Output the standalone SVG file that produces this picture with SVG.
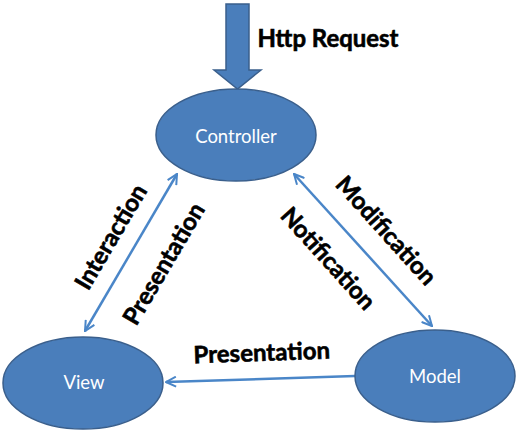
<svg xmlns="http://www.w3.org/2000/svg" width="519" height="438" viewBox="0 0 519 438">
<defs>
<style>
.node{fill:#4a7ebb;stroke:#3a5f8c;stroke-width:1.5}
.nt{font-family:Lato,"Liberation Sans",sans-serif;font-size:18.5px;fill:#ffffff;text-anchor:middle}
.lbl{font-family:Lato,"Liberation Sans",sans-serif;font-size:24px;font-weight:bold;fill:#000000;stroke:#000000;stroke-width:0.6;text-anchor:middle}
.con{stroke:#4a86c8;stroke-width:2.5;fill:none}
</style>
<marker id="ah" viewBox="0 0 12 12" refX="11" refY="6" markerWidth="12" markerHeight="12" markerUnits="userSpaceOnUse" orient="auto-start-reverse">
<path d="M1,1 L11,6 L1,11" fill="none" stroke="#4a86c8" stroke-width="2"/>
</marker>
</defs>
<rect width="519" height="438" fill="#ffffff"/>
<g id="http-request">
<path d="M226,4 L249,4 L249,70 L261,70 L237.5,89 L214,70 L226,70 Z" fill="#4a7ebb" stroke="#3a5f8c" stroke-width="1.5"/>
<text class="lbl" x="328" y="47" textLength="141" lengthAdjust="spacingAndGlyphs">Http Request</text>
</g>
<g id="connectors">
<line class="con" x1="85" y1="331" x2="177" y2="174" marker-start="url(#ah)" marker-end="url(#ah)"/>
<line class="con" x1="294" y1="174" x2="432" y2="326" marker-start="url(#ah)" marker-end="url(#ah)"/>
<line class="con" x1="355" y1="376" x2="166" y2="382" marker-end="url(#ah)"/>
<text class="lbl" transform="translate(118,241) rotate(-59.5)">Interaction</text>
<text class="lbl" transform="translate(171,268) rotate(-59.5)">Presentation</text>
<text class="lbl" transform="translate(380,236) rotate(48)">Modification</text>
<text class="lbl" transform="translate(322,264) rotate(48)">Notification</text>
<text class="lbl" transform="translate(262,361) rotate(-2)">Presentation</text>
</g>
<g id="controller">
<ellipse class="node" cx="236" cy="135" rx="80" ry="46"/>
<text class="nt" x="236" y="143">Controller</text>
</g>
<g id="view">
<ellipse class="node" cx="83" cy="383" rx="80" ry="46"/>
<text class="nt" x="84" y="389">View</text>
</g>
<g id="model">
<ellipse class="node" cx="435" cy="376" rx="80" ry="46"/>
<text class="nt" x="435" y="383">Model</text>
</g>
</svg>
